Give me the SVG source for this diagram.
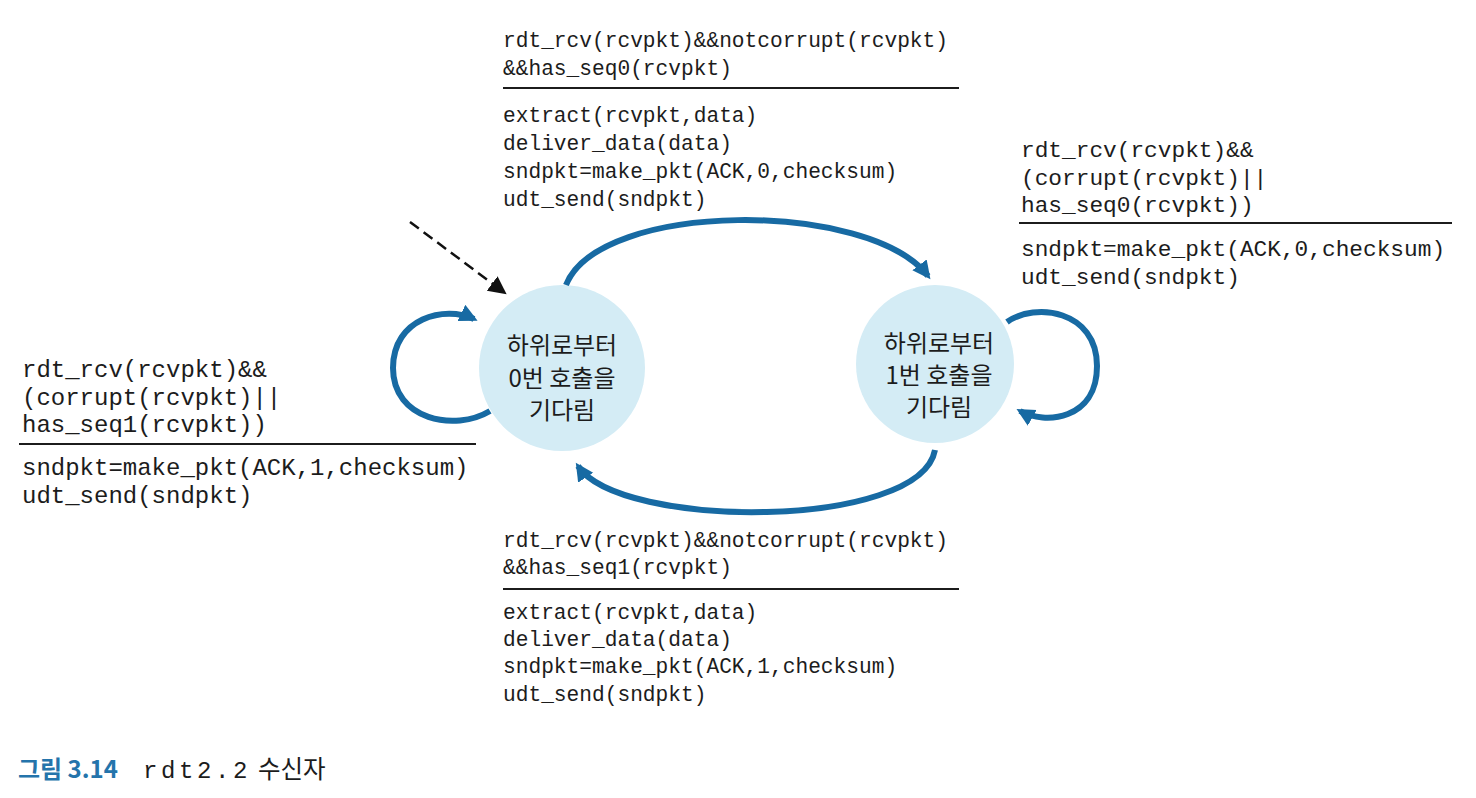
<svg xmlns="http://www.w3.org/2000/svg" width="1476" height="798" viewBox="0 0 1476 798">
<style>
.code{font-family:"Liberation Mono","DejaVu Sans Mono",monospace;fill:#1c1c1c}
.t{font-size:21.2px}
.r{font-size:22.8px}
.l{font-size:24px}
.sep{stroke:#1c1c1c;stroke-width:2}
.state{fill:#d4ecf5}
.kr{font-family:"Noto Sans CJK KR","Noto Sans",sans-serif;font-size:24px;fill:#1c1c1c;text-anchor:middle}
.arc{fill:none;stroke:#176aa3;stroke-width:6}
</style>
<defs>
<marker id="ah" markerUnits="userSpaceOnUse" markerWidth="22" markerHeight="22" refX="14" refY="9" orient="auto">
<path d="M0,0 L18,9 L0,18 z" fill="#176aa3"/>
</marker>
<marker id="ahk" markerUnits="userSpaceOnUse" markerWidth="22" markerHeight="22" refX="16" refY="9" orient="auto">
<path d="M0,0 L18,9 L0,18 z" fill="#111"/>
</marker>
</defs>
<rect width="1476" height="798" fill="#ffffff"/>

<g id="state0">
<circle class="state" cx="562" cy="368" r="83"/>
<text class="kr" x="562" y="354">하위로부터</text>
<text class="kr" x="562" y="387">0번 호출을</text>
<text class="kr" x="562" y="419">기다림</text>
</g>

<g id="state1">
<circle class="state" cx="935" cy="364" r="79"/>
<text class="kr" x="939" y="352">하위로부터</text>
<text class="kr" x="939" y="384">1번 호출을</text>
<text class="kr" x="939" y="416">기다림</text>
</g>

<g id="connectors">
<path class="arc" d="M566,285 C600,200 870,200 928,276" marker-end="url(#ah)"/>
<path class="arc" d="M935,450 C920,530 620,530 578,466" marker-end="url(#ah)"/>
<path class="arc" d="M490,411 C455,432 393,420 393,368 C393,318 445,305 474,319" marker-end="url(#ah)"/>
<path class="arc" d="M1007,322 C1035,302 1097,310 1097,366 C1097,420 1045,425 1020,411" marker-end="url(#ah)"/>
<path d="M410,222 L505,293" fill="none" stroke="#111" stroke-width="2.5" stroke-dasharray="11,6" marker-end="url(#ahk)"/>
</g>

<g id="label-top">
<text class="code t" x="503" y="47">rdt_rcv(rcvpkt)&amp;&amp;notcorrupt(rcvpkt)</text>
<text class="code t" x="503" y="75">&amp;&amp;has_seq0(rcvpkt)</text>
<line class="sep" x1="503" y1="88" x2="959" y2="88"/>
<text class="code t" x="503" y="122">extract(rcvpkt,data)</text>
<text class="code t" x="503" y="150">deliver_data(data)</text>
<text class="code t" x="503" y="178">sndpkt=make_pkt(ACK,0,checksum)</text>
<text class="code t" x="503" y="206">udt_send(sndpkt)</text>
</g>

<g id="label-right">
<text class="code r" x="1021" y="157">rdt_rcv(rcvpkt)&amp;&amp;</text>
<text class="code r" x="1021" y="185">(corrupt(rcvpkt)||</text>
<text class="code r" x="1021" y="212">has_seq0(rcvpkt))</text>
<line class="sep" x1="1019" y1="223" x2="1452" y2="223"/>
<text class="code r" x="1021" y="256">sndpkt=make_pkt(ACK,0,checksum)</text>
<text class="code r" x="1021" y="284">udt_send(sndpkt)</text>
</g>

<g id="label-left">
<text class="code l" x="22" y="377">rdt_rcv(rcvpkt)&amp;&amp;</text>
<text class="code l" x="22" y="405">(corrupt(rcvpkt)||</text>
<text class="code l" x="22" y="432">has_seq1(rcvpkt))</text>
<line class="sep" x1="19" y1="444" x2="476" y2="444"/>
<text class="code l" x="22" y="475">sndpkt=make_pkt(ACK,1,checksum)</text>
<text class="code l" x="22" y="503">udt_send(sndpkt)</text>
</g>

<g id="label-bottom">
<text class="code t" x="503" y="547">rdt_rcv(rcvpkt)&amp;&amp;notcorrupt(rcvpkt)</text>
<text class="code t" x="503" y="574">&amp;&amp;has_seq1(rcvpkt)</text>
<line class="sep" x1="503" y1="589" x2="959" y2="589"/>
<text class="code t" x="503" y="619">extract(rcvpkt,data)</text>
<text class="code t" x="503" y="646">deliver_data(data)</text>
<text class="code t" x="503" y="673">sndpkt=make_pkt(ACK,1,checksum)</text>
<text class="code t" x="503" y="701">udt_send(sndpkt)</text>
</g>

<g id="caption">
<text x="18" y="778" font-family="Noto Sans CJK KR,Noto Sans,sans-serif" font-size="24" font-weight="bold" fill="#2474ab">그림 3.14</text>
<text x="143" y="778" font-family="Liberation Mono,DejaVu Sans Mono,monospace" font-size="24" letter-spacing="3.6" fill="#1c1c1c">rdt2.2</text>
<text x="258" y="778" font-family="Noto Sans CJK KR,Noto Sans,sans-serif" font-size="24.5" fill="#1c1c1c">수신자</text>
</g>
</svg>
